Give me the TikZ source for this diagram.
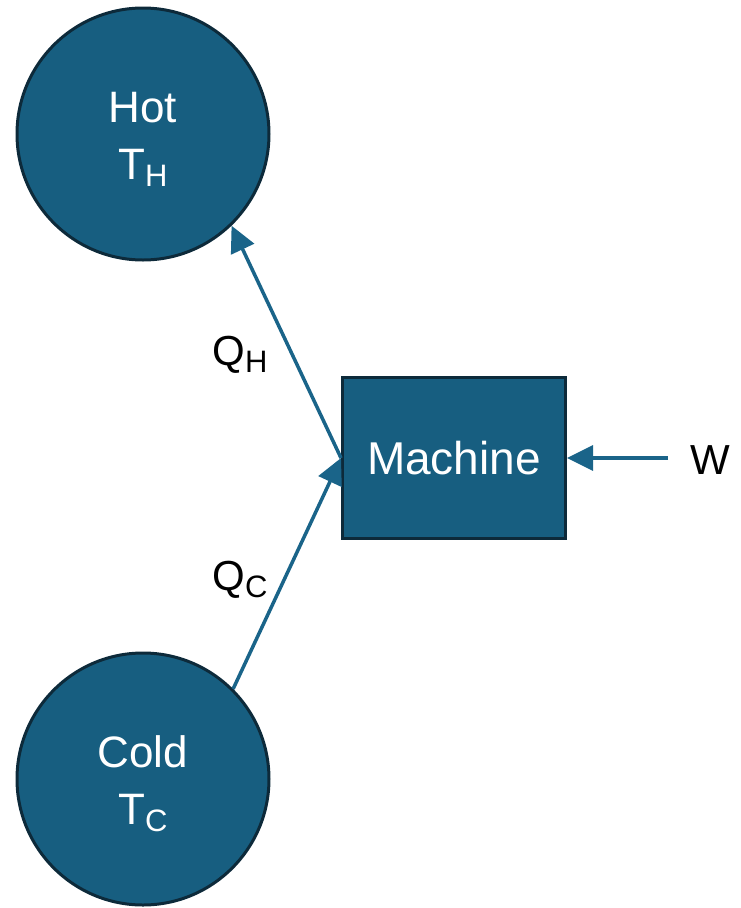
\documentclass[tikz,border=0pt]{standalone}
\usepackage{fontspec}
\setmainfont{Liberation Sans}
\usetikzlibrary{arrows.meta}
\definecolor{fillblue}{HTML}{175E80}
\definecolor{edgedark}{HTML}{0D2A3A}
\definecolor{arrowblue}{HTML}{1A6489}
\newcommand{\lowsub}[1]{\raisebox{-0.3ex}{\fontsize{31}{31}\selectfont #1}}
\begin{document}
\begin{tikzpicture}[x=1pt,y=-1pt,
  reservoir/.style={circle,fill=fillblue,draw=edgedark,line width=3pt,minimum size=252pt,inner sep=0pt},
  restext/.style={inner sep=0pt,text=white,align=center,font=\fontsize{44}{57}\selectfont},
  machinebox/.style={rectangle,fill=fillblue,draw=edgedark,line width=3pt,minimum width=223pt,minimum height=161pt,inner sep=0pt,text=white,font=\fontsize{46}{50}\selectfont},
  flow/.style={draw=arrowblue,line width=3.5pt,-{Triangle[length=26pt,width=25pt]}},
  lbl/.style={inner sep=0pt,text=black,font=\fontsize{42}{50}\selectfont}]
\useasboundingbox (0,0) rectangle (740,908);
\node[reservoir,label={[restext,yshift=-5pt]center:Hot\\T\lowsub{H}}] (hot) at (143,134) {};
\node[reservoir,label={[restext,yshift=-5pt]center:Cold\\T\lowsub{C}}] (cold) at (143,779) {};
\node[machinebox] (machine) at (454,458) {Machine};
\node[lbl] (qh) at (240,355) {Q\lowsub{H}};
\node[lbl] (qc) at (240,580) {Q\lowsub{C}};
\node[lbl] (wlabel) at (710,460) {W};
\coordinate (wtail) at (668,458);
\draw[flow] (machine.west) -- (hot.-46);
\draw[flow] (cold.45) -- (machine.west);
\draw[flow] (wtail) -- (machine.east);
\end{tikzpicture}
\end{document}
